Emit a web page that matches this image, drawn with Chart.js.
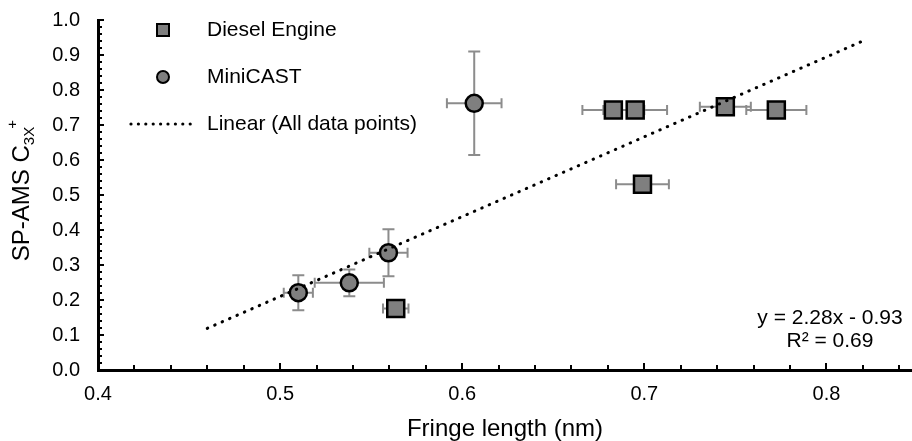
<!DOCTYPE html>
<html>
<head>
<meta charset="utf-8">
<script src="https://cdn.jsdelivr.net/npm/chart.js@4.4.1/dist/chart.umd.min.js"></script>
<style>
  html, body { margin: 0; padding: 0; background: #fff; }
  #wrap { width: 912px; height: 441px; }
</style>
</head>
<body>
<div id="wrap"><canvas id="chart"></canvas></div>
<script>
// Diesel Engine (squares)
const dieselX = [0.683, 0.695, 0.7445, 0.7725, 0.699, 0.5635];
const dieselY = [0.743, 0.743, 0.752, 0.743, 0.531, 0.176];
const dieselXErr = [0.017, 0.0175, 0.014, 0.0165, 0.0145, 0.007];
const dieselYErr = [0, 0, 0, 0, 0, 0];

// MiniCAST (circles)
const miniX = [0.510, 0.538, 0.5595, 0.6066];
const miniY = [0.221, 0.249, 0.335, 0.762];
const miniXErr = [0.008, 0.019, 0.0105, 0.015];
const miniYErr = [0.05, 0.038, 0.067, 0.148];

// Linear (All data points): y = 2.28x - 0.93
const trendX = [0.46, 0.82];
const trendY = [0.119, 0.940];

const xTicks = [0.4, 0.5, 0.6, 0.7, 0.8];
const yTicks = [0, 0.1, 0.2, 0.3, 0.4, 0.5, 0.6, 0.7, 0.8, 0.9, 1.0];

const fontFamily = '"Liberation Sans", Arial, sans-serif';
const markerFill = '#7f7f7f';
const errColor = '#8c8c8c';

function toPoints(xs, ys) {
  return xs.map((x, i) => ({ x: x, y: ys[i] }));
}

// error bars, drawn below the markers
const errorBarPlugin = {
  id: 'errorBars',
  beforeDatasetsDraw(chart) {
    const ctx = chart.ctx;
    const xs = chart.scales.x;
    const ys = chart.scales.y;
    const sets = [
      [dieselX, dieselY, dieselXErr, dieselYErr],
      [miniX, miniY, miniXErr, miniYErr]
    ];
    ctx.save();
    ctx.strokeStyle = errColor;
    ctx.lineWidth = 2;
    const cap = 5;
    for (const [px, py, ex, ey] of sets) {
      for (let i = 0; i < px.length; i++) {
        const cx = xs.getPixelForValue(px[i]);
        const cy = ys.getPixelForValue(py[i]);
        if (ex[i] > 0) {
          const x1 = xs.getPixelForValue(px[i] - ex[i]);
          const x2 = xs.getPixelForValue(px[i] + ex[i]);
          ctx.beginPath();
          ctx.moveTo(x1, cy); ctx.lineTo(x2, cy);
          ctx.moveTo(x1, cy - cap); ctx.lineTo(x1, cy + cap);
          ctx.moveTo(x2, cy - cap); ctx.lineTo(x2, cy + cap);
          ctx.stroke();
        }
        if (ey[i] > 0) {
          const y1 = ys.getPixelForValue(py[i] - ey[i]);
          const y2 = ys.getPixelForValue(py[i] + ey[i]);
          ctx.beginPath();
          ctx.moveTo(cx, y1); ctx.lineTo(cx, y2);
          ctx.moveTo(cx - cap - 1, y1); ctx.lineTo(cx + cap + 1, y1);
          ctx.moveTo(cx - cap - 1, y2); ctx.lineTo(cx + cap + 1, y2);
          ctx.stroke();
        }
      }
    }
    ctx.restore();
  }
};

// inside tick marks, legend, equation and y title
const decorPlugin = {
  id: 'decor',
  afterDraw(chart) {
    const ctx = chart.ctx;
    const xs = chart.scales.x;
    const ys = chart.scales.y;
    const area = chart.chartArea;
    ctx.save();
    ctx.strokeStyle = '#000';
    ctx.lineWidth = 2;
    ctx.beginPath();
    for (let v = 0.4; v <= 0.8401; v += 0.02) {
      const px = Math.round(xs.getPixelForValue(v));
      const major = Math.abs(v * 10 - Math.round(v * 10)) < 1e-6;
      ctx.moveTo(px, area.bottom);
      ctx.lineTo(px, area.bottom - (major ? 7 : 5));
    }
    for (let v = 0; v <= 1.0001; v += 0.02) {
      const py = Math.round(ys.getPixelForValue(v));
      const major = Math.abs(v * 10 - Math.round(v * 10)) < 1e-6;
      ctx.moveTo(area.left, py);
      ctx.lineTo(area.left + (major ? 6 : 4), py);
    }
    ctx.stroke();

    // legend
    ctx.fillStyle = markerFill;
    ctx.strokeStyle = '#000';
    ctx.lineWidth = 2;
    ctx.fillRect(157, 24, 12, 12);
    ctx.strokeRect(157, 24, 12, 12);
    ctx.beginPath();
    ctx.arc(163, 77, 6, 0, Math.PI * 2);
    ctx.fill();
    ctx.stroke();
    ctx.fillStyle = '#000';
    for (let x = 131; x <= 197; x += 7.4) {
      ctx.beginPath();
      ctx.arc(x, 124, 1.6, 0, Math.PI * 2);
      ctx.fill();
    }
    ctx.font = '21px ' + fontFamily;
    ctx.textBaseline = 'middle';
    ctx.textAlign = 'left';
    ctx.fillText('Diesel Engine', 207, 30);
    ctx.fillText('MiniCAST', 207, 77);
    ctx.fillText('Linear (All data points)', 207, 124);

    // fit equation
    ctx.textAlign = 'center';
    ctx.fillText('y = 2.28x - 0.93', 830, 318);
    ctx.fillText('R\u00b2 = 0.69', 830, 341);

    // y axis title: SP-AMS C3X+
    const main = 'SP-AMS C';
    ctx.font = '24px ' + fontFamily;
    const wMain = ctx.measureText(main).width;
    ctx.font = '15px ' + fontFamily;
    const wSub = ctx.measureText('3X').width;
    ctx.translate(29, 194);
    ctx.rotate(-Math.PI / 2);
    ctx.textAlign = 'left';
    ctx.textBaseline = 'alphabetic';
    const x0 = -(wMain + wSub) / 2;
    ctx.font = '24px ' + fontFamily;
    ctx.fillText(main, x0, 0);
    ctx.font = '15px ' + fontFamily;
    ctx.fillText('3X', x0 + wMain, 5);
    ctx.fillText('+', x0 + wMain + wSub - 2, -12);
    ctx.restore();
  }
};

function noScalePadding(scale) {
  scale.paddingLeft = 0;
  scale.paddingRight = 0;
  scale.paddingTop = 0;
  scale.paddingBottom = 0;
}

const chart = new Chart(document.querySelector('#chart'), {
  type: 'scatter',
  data: {
    datasets: [
      {
        label: 'Linear (All data points)',
        type: 'line',
        data: toPoints(trendX, trendY),
        borderColor: '#000',
        borderWidth: 3,
        borderDash: [0.5, 7.6],
        borderCapStyle: 'round',
        pointRadius: 0,
        fill: false
      },
      {
        label: 'Diesel Engine',
        data: toPoints(dieselX, dieselY),
        pointStyle: 'rect',
        pointRadius: 12,
        pointBackgroundColor: markerFill,
        pointBorderColor: '#000',
        pointBorderWidth: 2.5
      },
      {
        label: 'MiniCAST',
        data: toPoints(miniX, miniY),
        pointStyle: 'circle',
        pointRadius: 8.5,
        pointBackgroundColor: markerFill,
        pointBorderColor: '#000',
        pointBorderWidth: 2.5
      }
    ]
  },
  options: {
    responsive: true,
    maintainAspectRatio: false,
    animation: false,
    layout: { autoPadding: false, padding: { top: 20, right: 0, left: 0, bottom: 0 } },
    plugins: {
      legend: { display: false },
      tooltip: { enabled: false }
    },
    scales: {
      x: {
        type: 'linear',
        min: 0.4,
        max: 0.847,
        afterBuildTicks: (scale) => { scale.ticks = xTicks.map((v) => ({ value: v })); },
        afterFit: (scale) => { scale.height = 71; noScalePadding(scale); },
        grid: { display: false, drawTicks: false },
        border: { display: true, color: '#000', width: 3 },
        ticks: {
          color: '#000',
          font: { family: fontFamily, size: 20 },
          padding: 12,
          maxRotation: 0,
          callback: (v) => v.toFixed(1)
        },
        title: {
          display: true,
          text: 'Fringe length (nm)',
          color: '#000',
          font: { family: fontFamily, size: 24 },
          padding: { top: 0, bottom: -3 }
        }
      },
      y: {
        type: 'linear',
        min: 0,
        max: 1,
        afterBuildTicks: (scale) => { scale.ticks = yTicks.map((v) => ({ value: v })); },
        afterFit: (scale) => { scale.width = 98; noScalePadding(scale); },
        grid: { display: false, drawTicks: false },
        border: { display: true, color: '#000', width: 3 },
        ticks: {
          color: '#000',
          font: { family: fontFamily, size: 20 },
          padding: 18,
          callback: (v) => v.toFixed(1)
        }
      }
    }
  },
  plugins: [errorBarPlugin, decorPlugin]
});
</script>
</body>
</html>
